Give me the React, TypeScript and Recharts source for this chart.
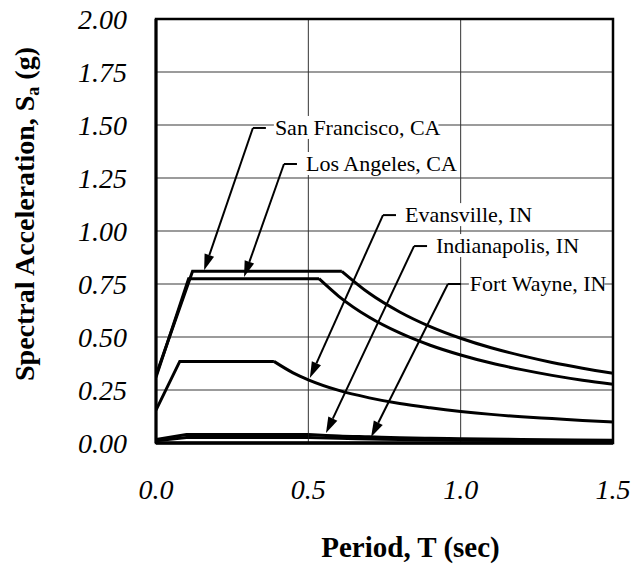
import {
  LineChart,
  CartesianGrid,
  XAxis,
  YAxis,
  Line,
  ReferenceLine,
  ReferenceArea,
  Label,
} from "recharts";

// Period ticks (sec) and spectral acceleration ticks (g)
const periodTicks = [0, 0.5, 1.0, 1.5];
const accelTicks = [0, 0.25, 0.5, 0.75, 1.0, 1.25, 1.5, 1.75, 2.0];

// each spectrum: straight ramp + plateau, then the 1/T tail
const sanFranciscoRamp = [
  { t: 0, sa: 0.32 },
  { t: 0.12, sa: 0.81 },
  { t: 0.61, sa: 0.81 },
];
const sanFranciscoTail = [
  { t: 0.61, sa: 0.81 },
  { t: 0.7, sa: 0.706 },
  { t: 0.8, sa: 0.618 },
  { t: 0.9, sa: 0.549 },
  { t: 1.0, sa: 0.494 },
  { t: 1.1, sa: 0.449 },
  { t: 1.2, sa: 0.412 },
  { t: 1.3, sa: 0.38 },
  { t: 1.4, sa: 0.353 },
  { t: 1.5, sa: 0.329 },
];

const losAngelesRamp = [
  { t: 0, sa: 0.31 },
  { t: 0.107, sa: 0.775 },
  { t: 0.535, sa: 0.775 },
];
const losAngelesTail = [
  { t: 0.535, sa: 0.775 },
  { t: 0.6, sa: 0.692 },
  { t: 0.7, sa: 0.593 },
  { t: 0.8, sa: 0.519 },
  { t: 0.9, sa: 0.461 },
  { t: 1.0, sa: 0.415 },
  { t: 1.1, sa: 0.377 },
  { t: 1.2, sa: 0.346 },
  { t: 1.3, sa: 0.319 },
  { t: 1.4, sa: 0.296 },
  { t: 1.5, sa: 0.277 },
];

const evansvilleRamp = [
  { t: 0, sa: 0.155 },
  { t: 0.078, sa: 0.385 },
  { t: 0.387, sa: 0.385 },
];
const evansvilleTail = [
  { t: 0.387, sa: 0.385 },
  { t: 0.45, sa: 0.331 },
  { t: 0.5, sa: 0.298 },
  { t: 0.6, sa: 0.248 },
  { t: 0.7, sa: 0.213 },
  { t: 0.8, sa: 0.186 },
  { t: 0.9, sa: 0.166 },
  { t: 1.0, sa: 0.149 },
  { t: 1.1, sa: 0.135 },
  { t: 1.2, sa: 0.124 },
  { t: 1.3, sa: 0.115 },
  { t: 1.4, sa: 0.106 },
  { t: 1.5, sa: 0.099 },
];

const indianapolisRamp = [
  { t: 0, sa: 0.016 },
  { t: 0.1, sa: 0.04 },
  { t: 0.5, sa: 0.04 },
];
const indianapolisTail = [
  { t: 0.5, sa: 0.04 },
  { t: 0.6, sa: 0.033 },
  { t: 0.7, sa: 0.029 },
  { t: 0.8, sa: 0.025 },
  { t: 0.9, sa: 0.022 },
  { t: 1.0, sa: 0.02 },
  { t: 1.2, sa: 0.017 },
  { t: 1.5, sa: 0.013 },
];

const fortWayneRamp = [
  { t: 0, sa: 0.01 },
  { t: 0.1, sa: 0.026 },
  { t: 0.5, sa: 0.026 },
];
const fortWayneTail = [
  { t: 0.5, sa: 0.026 },
  { t: 0.6, sa: 0.022 },
  { t: 0.7, sa: 0.019 },
  { t: 0.8, sa: 0.016 },
  { t: 1.0, sa: 0.013 },
  { t: 1.2, sa: 0.011 },
  { t: 1.5, sa: 0.009 },
];

const ramps = [sanFranciscoRamp, losAngelesRamp, evansvilleRamp, indianapolisRamp, fortWayneRamp];
const tails = [sanFranciscoTail, losAngelesTail, evansvilleTail, indianapolisTail, fortWayneTail];

// callout labels: elbow of the leader and arrow tip, in data units
const callouts = [
  { label: "San Francisco, CA", elbowT: 0.318, elbowSa: 1.486, tipT: 0.158, tipSa: 0.815 },
  { label: "Los Angeles, CA", elbowT: 0.42, elbowSa: 1.316, tipT: 0.289, tipSa: 0.783 },
  { label: "Evansville, IN", elbowT: 0.745, elbowSa: 1.075, tipT: 0.505, tipSa: 0.307 },
  { label: "Indianapolis, IN", elbowT: 0.847, elbowSa: 0.929, tipT: 0.558, tipSa: 0.047 },
  { label: "Fort Wayne, IN", elbowT: 0.958, elbowSa: 0.75, tipT: 0.706, tipSa: 0.028 },
];

const SERIF = '"Liberation Serif", "Times New Roman", serif';
const LABEL_SIZE = 22;

function Callout(props: any) {
  const { x1, y1, x2, y2, label } = props;
  const ang = Math.atan2(y2 - y1, x2 - x1);
  const len = 16;
  const hw = 5;
  const bx = x2 - len * Math.cos(ang);
  const by = y2 - len * Math.sin(ang);
  const px = -Math.sin(ang) * hw;
  const py = Math.cos(ang) * hw;
  const textX = x1 + 22;
  const baseline = y1 + 7;
  const boxW = label.length * 0.44 * LABEL_SIZE;
  return (
    <g>
      <line x1={x1} y1={y1} x2={bx} y2={by} stroke="#000" strokeWidth={2} />
      <polygon
        points={`${x2},${y2} ${bx + px},${by + py} ${bx - px},${by - py}`}
        fill="#000"
      />
      <line x1={x1} y1={y1} x2={x1 + 13} y2={y1} stroke="#000" strokeWidth={2} />
      <rect x={textX - 1} y={baseline - 19} width={boxW} height={23} fill="#fff" />
      <text x={textX} y={baseline} fontFamily={SERIF} fontSize={LABEL_SIZE} fill="#000">
        {label}
      </text>
    </g>
  );
}

export default function App() {
  return (
    <div style={{ position: "absolute", left: 0, top: 0 }}>
      <LineChart width={633} height={576} margin={{ top: 19, right: 20, left: 0, bottom: 0 }}>
        <CartesianGrid horizontal vertical={false} stroke="#7a7a7a" strokeWidth={1.5} />
        <CartesianGrid horizontal={false} vertical stroke="#333" strokeWidth={1} />
        <XAxis
          dataKey="t"
          type="number"
          domain={[0, 1.5]}
          ticks={periodTicks}
          interval={0}
          allowDataOverflow
          height={133}
          tickSize={0}
          tickMargin={36}
          tickFormatter={(v: number) => v.toFixed(1)}
          tick={{ fontFamily: SERIF, fontStyle: "italic", fontSize: 28, fill: "#000" }}
          axisLine={{ stroke: "#000", strokeWidth: 3.5 }}
        >
          <Label
            content={(p: any) => {
              const vb = p.viewBox;
              return (
                <text
                  x={vb.x + vb.width / 2 + 26}
                  y={vb.y + 114}
                  textAnchor="middle"
                  fontFamily={SERIF}
                  fontWeight="bold"
                  fontSize={29}
                  fill="#000"
                >
                  Period, T (sec)
                </text>
              );
            }}
          />
        </XAxis>
        <YAxis
          type="number"
          domain={[0, 2]}
          ticks={accelTicks}
          interval={0}
          allowDataOverflow
          width={156}
          tickSize={0}
          tickMargin={29}
          tickFormatter={(v: number) => v.toFixed(2)}
          tick={{ fontFamily: SERIF, fontStyle: "italic", fontSize: 28, fill: "#000" }}
          axisLine={{ stroke: "#000", strokeWidth: 3 }}
        >
          <Label
            content={() => (
              <text
                x={34}
                y={214}
                transform="rotate(-90, 34, 214)"
                textAnchor="middle"
                fontFamily={SERIF}
                fontWeight="bold"
                fontSize={28}
                fill="#000"
              >
                Spectral Acceleration, S
                <tspan fontSize={18} dy={5}>a</tspan>
                <tspan dy={-5}> (g)</tspan>
              </text>
            )}
          />
        </YAxis>
        <ReferenceArea x1={0} x2={1.5} y1={0} y2={2} fill="none" stroke="#000" strokeWidth={2.5} />
        {ramps.map((d, i) => (
          <Line
            key={"r" + i}
            data={d}
            dataKey="sa"
            type="linear"
            stroke="#000"
            strokeWidth={3}
            dot={false}
            activeDot={false}
            isAnimationActive={false}
          />
        ))}
        {tails.map((d, i) => (
          <Line
            key={"t" + i}
            data={d}
            dataKey="sa"
            type="monotone"
            stroke="#000"
            strokeWidth={3}
            dot={false}
            activeDot={false}
            isAnimationActive={false}
          />
        ))}
        {callouts.map((c) => (
          <ReferenceLine
            key={c.label}
            segment={[
              { x: c.elbowT, y: c.elbowSa },
              { x: c.tipT, y: c.tipSa },
            ]}
            shape={(p: any) => <Callout {...p} label={c.label} />}
          />
        ))}
      </LineChart>
    </div>
  );
}
